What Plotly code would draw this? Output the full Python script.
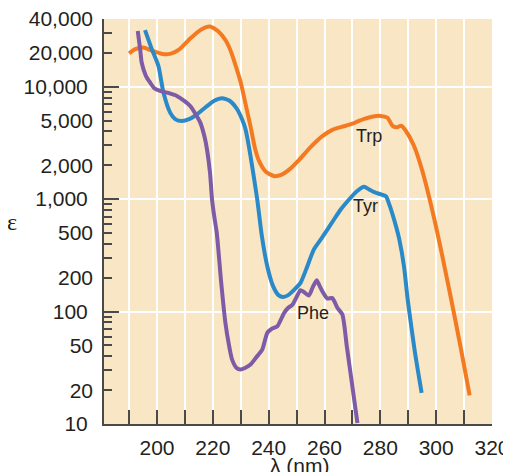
import math
import plotly.graph_objects as go

# ---------------- data ----------------
trp_nm = [190, 192, 195, 198, 202, 205, 208, 212, 216, 219, 222, 224.5, 226.5, 228.5, 230,
          232, 233.5, 235, 236.5, 239, 242, 244.5, 247, 251, 255, 259, 263, 267, 271, 274,
          277, 280, 282.5, 284.5, 286, 287.5, 289, 292, 295, 298.8, 302, 305.4, 309, 312]
trp_eps = [19800, 21500, 22300, 21000, 19500, 19700, 21500, 27000, 32500, 34300, 31000, 26000,
           20500, 14500, 10900, 6500, 4440, 2900, 2200, 1750, 1600, 1640, 1800, 2250, 2900,
           3600, 4150, 4450, 4800, 5150, 5400, 5500, 5300, 4450, 4350, 4500, 4100, 3000, 1800,
           760, 330, 128, 45, 18]

tyr_nm = [195.7, 198, 200.5, 202.3, 204.7, 206.5, 208.9, 211.5, 214.3, 217.5, 220.5, 223.3,
          226, 228.7, 230.5, 231.7, 233.5, 235.9, 237.5, 239.5, 241.5, 243.5, 245.2, 247, 249,
          251.4, 253.5, 256.2, 259, 263.4, 266, 268.8, 271.5, 274.2, 276, 278.4, 282, 283.2,
          285.6, 286.8, 288.5, 289.8, 292.3, 294.8]
tyr_eps = [31800, 22000, 15300, 8870, 5880, 5150, 4950, 5150, 5680, 6600, 7500, 7900, 7500,
           6300, 5100, 4180, 2415, 993, 480, 253, 170, 140, 135, 140, 155, 180, 240, 357, 450,
           659, 820, 993, 1170, 1290, 1220, 1140, 1060, 897, 575, 438, 250, 128, 45, 18.9]

phe_nm = [193.1, 194, 194.5, 196, 197.5, 199, 201.1, 204, 207.1, 210, 211.9, 214, 215.5, 217,
          217.9, 219, 219.7, 220.5, 221.4, 223, 224.5, 225.8, 226.9, 228.5, 229.9, 231.5,
          233.5, 235.5, 237.7, 239.5, 241, 243.1, 245.5, 247, 248.5, 250, 251.4, 252.5, 254.4,
          255.8, 257.2, 258.2, 259.2, 261, 262.8, 264.6, 266.4, 268, 270, 271.8]
phe_eps = [31300, 21000, 16400, 12500, 10900, 9700, 9160, 8800, 8270, 7400, 6730, 5600, 4790,
           3600, 2770, 1700, 994, 700, 502, 180, 79, 50, 37.4, 31.5, 30.5, 31.5, 33.8, 39, 45.9,
           64.6, 70, 74, 97, 108, 115, 135, 155, 150, 139, 165, 190, 170, 152, 131, 132, 108,
           94, 49, 21.4, 10.2]

curve_names = ["Trp", "Tyr", "Phe"]
curve_colors = ["#F47A22", "#2A89C8", "#7D5BA6"]
label_nm = [275.9, 274.7, 255.9]
label_eps = [3640, 871, 97.5]

x_ticks = list(range(190, 321, 10))
x_ticktext = [str(v) if v % 20 == 0 else "" for v in x_ticks]

y_major = [10, 100, 1000, 10000]
y_major_text = ["10", "100", "1,000", "10,000"]
y_extra = [20, 50, 200, 500, 2000, 5000, 20000, 40000]
y_extra_text = ["20", "50", "200", "500", "2,000", "5,000", "20,000", "40,000"]
y_minor = [k * 10 ** e for e in (1, 2, 3) for k in range(2, 10)] + [20000, 30000, 40000]

# ---------------- figure ----------------
axis_col = "#4a4a4a"
text_col = "#231F20"
font_family = "Liberation Sans, Arial, sans-serif"
tick_size = 21

# the page body has an 8px default margin; lay out the figure so the plot area
# lands at window pixels x 104..492, y 19..424
OFF = 8
W, H = 503, 464
ML, MT = 104 - OFF, 19 - OFF
MR = W - (492 - OFF)
MB = H - (424 - OFF)
PW, PH = W - ML - MR, H - MT - MB


def px_to_paper_x(px):
    return (px - OFF - ML) / PW


def py_to_paper_y(py):
    return (H - MB - (py - OFF)) / PH


fig = go.Figure()
for nm, eps, name, col in zip([trp_nm, tyr_nm, phe_nm], [trp_eps, tyr_eps, phe_eps],
                              curve_names, curve_colors):
    fig.add_trace(go.Scatter(x=nm, y=eps, mode="lines", name=name,
                             line=dict(color=col, width=4, shape="spline", smoothing=0.6),
                             showlegend=False, hoverinfo="skip"))

# empty trace so the secondary (label-only) y axis is drawn
fig.add_trace(go.Scatter(x=[], y=[], yaxis="y2", showlegend=False, hoverinfo="skip"))

for name, xn, ye in zip(curve_names, label_nm, label_eps):
    fig.add_annotation(x=xn, y=math.log10(ye), xref="x", yref="y", text=name,
                       showarrow=False, font=dict(family=font_family, size=18, color=text_col))

fig.add_annotation(x=px_to_paper_x(12), y=py_to_paper_y(222), xref="paper", yref="paper",
                   text="ε", showarrow=False, xanchor="center", yanchor="middle",
                   font=dict(family="Liberation Serif, serif", size=24, color=text_col))
fig.add_annotation(x=px_to_paper_x(300), y=py_to_paper_y(466), xref="paper", yref="paper",
                   text="λ (nm)", showarrow=False, xanchor="center", yanchor="middle",
                   font=dict(family=font_family, size=tick_size, color=text_col))

y_rng = [1, math.log10(40000) + 1e-6]

fig.update_layout(
    width=W, height=H,
    margin=dict(l=ML, r=MR, t=MT, b=MB, autoexpand=False),
    paper_bgcolor="white",
    plot_bgcolor="#F8E6C5",
    font=dict(family=font_family, size=tick_size, color=text_col),
    xaxis=dict(range=[181, 320.01], tickmode="array", tickvals=x_ticks, ticktext=x_ticktext,
               ticks="inside", ticklen=14, tickwidth=2, tickcolor=axis_col,
               showline=True, linecolor=axis_col, linewidth=2, automargin=False,
               showgrid=True, gridcolor="white", gridwidth=1.5, zeroline=False,
               ticklabelstandoff=4, ticklabeloverflow="allow",
               tickfont=dict(size=tick_size, color=text_col)),
    yaxis=dict(type="log", range=y_rng, tickmode="array", tickvals=y_major,
               ticktext=y_major_text, ticks="inside", ticklen=15, tickwidth=2,
               tickcolor=axis_col, showline=True, linecolor=axis_col, linewidth=2,
               showgrid=True, gridcolor="white", gridwidth=1.5, zeroline=False,
               automargin=False, ticklabelstandoff=10, ticklabeloverflow="allow",
               minor=dict(tickmode="array", tickvals=y_minor, ticks="inside", ticklen=8,
                          tickwidth=2, tickcolor=axis_col, showgrid=False),
               tickfont=dict(size=tick_size, color=text_col)),
    yaxis2=dict(type="log", range=y_rng, overlaying="y", side="left", anchor="x",
                tickmode="array", tickvals=y_extra, ticktext=y_extra_text, ticks="",
                showgrid=False, showline=False, zeroline=False, automargin=False,
                ticklabelstandoff=10, ticklabeloverflow="allow",
                tickfont=dict(size=tick_size, color=text_col)),
)

fig.write_html("out.html", config={"displayModeBar": False})
